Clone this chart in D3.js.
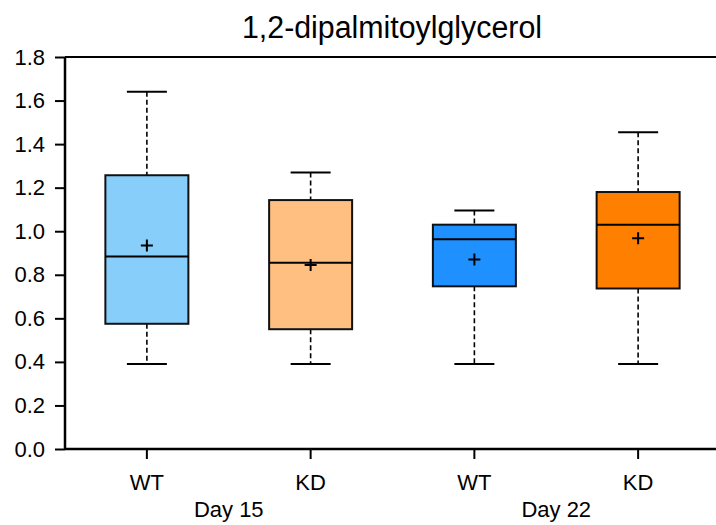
<!DOCTYPE html>
<html><head><meta charset="utf-8">
<script src="https://cdn.jsdelivr.net/npm/d3@7"></script>
<style>body{margin:0;background:#fff;} svg{display:block;font-family:"Liberation Sans",Arial,sans-serif;}</style>
</head><body>
<script>
const categories = ["WT","KD","WT","KD"];
const groups = ["Day 15","Day 22"];
const whiskerLow = [0.39,0.39,0.39,0.39];
const q1 = [0.575,0.55,0.747,0.737];
const median = [0.884,0.855,0.963,1.03];
const q3 = [1.257,1.143,1.03,1.18];
const whiskerHigh = [1.64,1.27,1.095,1.455];
const mean = [0.935,0.845,0.87,0.968];
const colors = ["#87CEFA","#FFBF80","#1E90FF","#FF8000"];
const yTicks = [0,0.2,0.4,0.6,0.8,1.0,1.2,1.4,1.6,1.8];

(function(){
const W=716,H=525;
const svg=d3.select("body").append("svg").attr("width",W).attr("height",H);
const mLeft=65,mRight=720,mTop=57,mBottom=449;
const x=d3.scaleBand().domain(d3.range(categories.length)).range([mLeft,mRight]).paddingInner(0).paddingOuter(0);
const y=d3.scaleLinear().domain([0,1.8]).range([mBottom,mTop]);

svg.append("text").attr("x",392).attr("y",38).attr("text-anchor","middle")
  .attr("font-size",31).attr("fill","#000").attr("textLength",300).attr("lengthAdjust","spacingAndGlyphs")
  .text("1,2-dipalmitoylglycerol");

svg.append("line").attr("x1",mLeft).attr("x2",mRight).attr("y1",mTop).attr("y2",mTop).attr("stroke","#000").attr("stroke-width",2);

const yAxis=svg.append("g").attr("transform",`translate(${mLeft},0)`)
  .call(d3.axisLeft(y).tickValues(yTicks).tickFormat(d3.format(".1f")).tickSize(10).tickPadding(10));
yAxis.attr("font-family",null).attr("font-size",null);
yAxis.select(".domain").attr("stroke-width",2.5).attr("d",`M0,${mTop}V${mBottom}`);
yAxis.selectAll(".tick line").attr("stroke-width",2);
yAxis.selectAll(".tick text").attr("font-size",22).attr("fill","#000");

const xAxis=svg.append("g").attr("transform",`translate(0,${mBottom})`)
  .call(d3.axisBottom(x).tickFormat(i=>categories[i]).tickSize(10).tickPadding(15));
xAxis.attr("font-family",null).attr("font-size",null);
xAxis.select(".domain").attr("stroke-width",2.5).attr("d",`M${mLeft},0H${mRight}`);
xAxis.selectAll(".tick line").attr("stroke-width",2);
xAxis.selectAll(".tick text").attr("font-size",22).attr("fill","#000");

groups.forEach((g,k)=>{
  const cx=(x(2*k)+x(2*k+1)+x.bandwidth())/2;
  svg.append("text").attr("x",cx).attr("y",517).attr("text-anchor","middle").attr("font-size",22).text(g);
});

const bw=83, cw=40, ms=6;
d3.range(categories.length).forEach(i=>{
  const cx=x(i)+x.bandwidth()/2;
  const gg=svg.append("g");
  gg.append("line").attr("x1",cx).attr("x2",cx).attr("y1",y(whiskerHigh[i])).attr("y2",y(q3[i]))
    .attr("stroke","#000").attr("stroke-width",1.6).attr("stroke-dasharray","5,3");
  gg.append("line").attr("x1",cx).attr("x2",cx).attr("y1",y(q1[i])).attr("y2",y(whiskerLow[i]))
    .attr("stroke","#000").attr("stroke-width",1.6).attr("stroke-dasharray","5,3");
  [whiskerHigh[i],whiskerLow[i]].forEach(v=>{
    gg.append("line").attr("x1",cx-cw/2).attr("x2",cx+cw/2).attr("y1",y(v)).attr("y2",y(v))
      .attr("stroke","#000").attr("stroke-width",2);
  });
  gg.append("rect").attr("x",cx-bw/2).attr("width",bw).attr("y",y(q3[i])).attr("height",y(q1[i])-y(q3[i]))
    .attr("fill",colors[i]).attr("stroke","#111").attr("stroke-width",2);
  gg.append("line").attr("x1",cx-bw/2).attr("x2",cx+bw/2).attr("y1",y(median[i])).attr("y2",y(median[i]))
    .attr("stroke","#000").attr("stroke-width",2);
  gg.append("path").attr("d",`M${cx-ms},${y(mean[i])}H${cx+ms}M${cx},${y(mean[i])-ms}V${y(mean[i])+ms}`)
    .attr("stroke","#000").attr("stroke-width",2);
});
})();
</script>
</body></html>
